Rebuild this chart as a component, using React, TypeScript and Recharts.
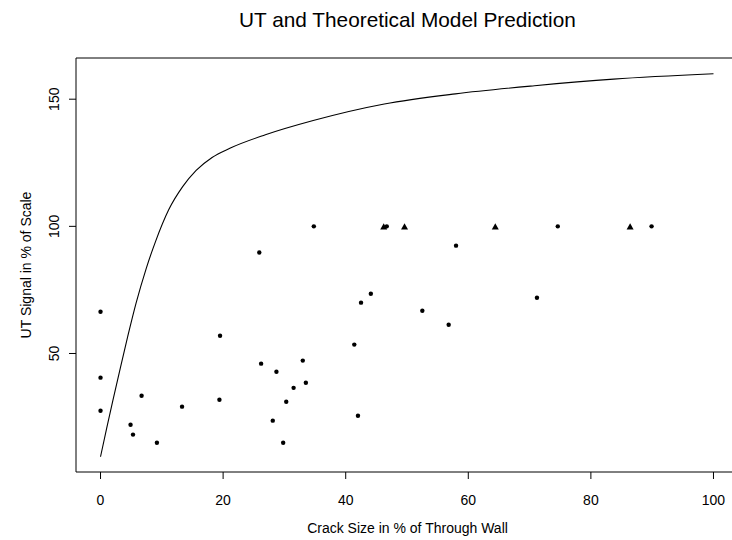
import React from 'react';
import { ComposedChart, Line, Scatter, XAxis, YAxis, ReferenceArea } from 'recharts';

// Theoretical model curve
const curveX = [0, 1.0, 2.0, 3.2, 4.45, 5.8, 7.45, 9.0, 11.1, 13.4, 15.6, 18.2, 21.1, 26.9, 34.7, 46.3, 57.9, 70.8, 83.7, 100];
const curveY = [9.4, 20.6, 31.4, 44.0, 56.8, 69.8, 83.4, 94.2, 106.4, 115.6, 122.0, 127.1, 130.7, 136.0, 141.6, 148.1, 152.1, 155.3, 157.9, 160.0];

// UT measurements (dots)
const dotX = [34.8, 46.7, 74.6, 89.9, 25.9, 0, 19.5, 26.2, 28.7, 33.0, 33.5, 31.5, 30.3, 28.1, 29.8, 0, 0, 6.7, 4.9, 5.3, 9.2, 13.3, 19.4, 58.0, 44.1, 42.5, 52.5, 56.8, 41.4, 42.0, 71.2];
const dotY = [100, 100, 100, 100, 89.7, 66.4, 57.0, 46.0, 42.8, 47.2, 38.5, 36.5, 31.0, 23.6, 14.9, 40.5, 27.5, 33.4, 22.0, 18.1, 14.9, 29.1, 31.8, 92.4, 73.5, 70.0, 66.8, 61.3, 53.5, 25.5, 71.9];

// Saturated measurements (triangles)
const triX = [46.2, 49.6, 64.4, 86.4];
const triY = [100, 100, 100, 100];

const xTicks = [0, 20, 40, 60, 80, 100];
const yTicks = [50, 100, 150];
const xDomain = [-4, 104];
const yDomain = [3.4, 166.2];

const title = 'UT and Theoretical Model Prediction';
const xLabel = 'Crack Size in % of Through Wall';
const yLabel = 'UT Signal in % of Scale';

const FONT = '"Liberation Sans", Arial, Helvetica, sans-serif';

const curveData = curveX.map((x, i) => ({ x, y: curveY[i] }));
const dotData = dotX.map((x, i) => ({ x, y: dotY[i] }));
const triData = triX.map((x, i) => ({ x, y: triY[i] }));

const DotShape = (props: any) => {
  const { cx, cy } = props;
  if (cx == null || cy == null) return null;
  return <circle cx={cx} cy={cy} r={2.2} fill="#000" />;
};

const TriShape = (props: any) => {
  const { cx, cy } = props;
  if (cx == null || cy == null) return null;
  const h = 6.2;
  const w = 7;
  const pts = `${cx - w / 2},${cy + h / 2} ${cx + w / 2},${cy + h / 2} ${cx},${cy - h / 2}`;
  return <polygon points={pts} fill="#000" />;
};

const XTick = (props: any) => {
  const { x, y, payload } = props;
  return (
    <text x={x} y={y + 26} textAnchor="middle" fontFamily={FONT} fontSize={14} fill="#000">
      {payload.value}
    </text>
  );
};

const YTick = (props: any) => {
  const { x, y, payload } = props;
  const tx = x - 10;
  return (
    <text
      x={tx}
      y={y}
      transform={`rotate(-90, ${tx}, ${y})`}
      textAnchor="middle"
      fontFamily={FONT}
      fontSize={14}
      fill="#000"
    >
      {payload.value}
    </text>
  );
};

export default function App() {
  return (
    <div style={{ position: 'absolute', left: 0, top: 0, width: 732, height: 540, overflow: 'hidden', background: '#fff' }}>
      <ComposedChart width={740} height={540} margin={{ top: 58, right: 2, bottom: 0, left: 0 }}>
        <XAxis
          type="number"
          dataKey="x"
          domain={xDomain}
          ticks={xTicks}
          allowDataOverflow
          height={68}
          tickSize={7}
          tickMargin={0}
          axisLine={false}
          tickLine={{ stroke: '#000' }}
          tick={<XTick />}
        />
        <YAxis
          type="number"
          dataKey="y"
          domain={yDomain}
          ticks={yTicks}
          allowDataOverflow
          width={76}
          tickSize={7}
          tickMargin={0}
          axisLine={false}
          tickLine={{ stroke: '#000' }}
          tick={<YTick />}
        />
        <ReferenceArea x1={xDomain[0]} x2={xDomain[1]} y1={yDomain[0]} y2={yDomain[1]} fill="none" stroke="#000" strokeWidth={1} ifOverflow="visible" />
        <Line
          data={curveData}
          dataKey="y"
          type="monotone"
          stroke="#000"
          strokeWidth={1.1}
          dot={false}
          activeDot={false}
          isAnimationActive={false}
        />
        <Scatter data={dotData} dataKey="y" shape={<DotShape />} isAnimationActive={false} />
        <Scatter data={triData} dataKey="y" shape={<TriShape />} isAnimationActive={false} />
      </ComposedChart>
      <svg width={732} height={540} style={{ position: 'absolute', left: 0, top: 0, pointerEvents: 'none' }}>
        <text x={407.5} y={27} textAnchor="middle" fontFamily={FONT} fontSize={20.8} fill="#000">
          {title}
        </text>
        <text x={407.5} y={533} textAnchor="middle" fontFamily={FONT} fontSize={14} fill="#000">
          {xLabel}
        </text>
        <text x={31} y={265} transform="rotate(-90, 31, 265)" textAnchor="middle" fontFamily={FONT} fontSize={14} fill="#000">
          {yLabel}
        </text>
      </svg>
    </div>
  );
}
